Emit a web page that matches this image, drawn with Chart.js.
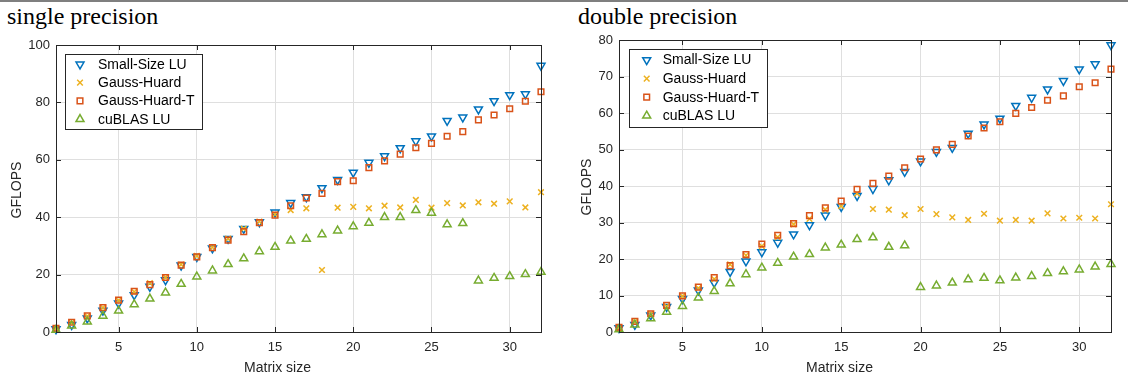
<!DOCTYPE html>
<html>
<head>
<meta charset="utf-8">
<script src="https://cdn.jsdelivr.net/npm/chart.js@4.4.1/dist/chart.umd.min.js"></script>
<style>
  html, body { margin: 0; padding: 0; background: #fff; }
  body { width: 1128px; height: 381px; position: relative; overflow: hidden; }
  .topline { position: absolute; left: 0; top: 0; width: 1128px; height: 2px; background: #7f7f7f; }
  .ttl { position: absolute; top: 4px; font-family: 'Liberation Serif', 'Times New Roman', serif; font-size: 24px; line-height: 24px; color: #000; white-space: nowrap; }
  canvas { position: absolute; top: 0; }
</style>
</head>
<body>
<div class="topline"></div>
<div class="ttl" style="left:7px">single precision</div>
<div class="ttl" style="left:578px">double precision</div>
<canvas id="cs" width="560" height="381" style="left:0"></canvas>
<canvas id="cd" width="568" height="381" style="left:560px"></canvas>
<script>
// ---------- data ----------
const sizes = [1,2,3,4,5,6,7,8,9,10,11,12,13,14,15,16,17,18,19,20,21,22,23,24,25,26,27,28,29,30,31,32];
const seriesNames = ['Small-Size LU', 'Gauss-Huard', 'Gauss-Huard-T', 'cuBLAS LU'];
const xTickLabels = [5, 10, 15, 20, 25, 30];
const spTickLabels = [0, 20, 40, 60, 80, 100];
const dpTickLabels = [0, 10, 20, 30, 40, 50, 60, 70, 80];
const xTitle = 'Matrix size';
const yTitle = 'GFLOPS';

const spSmall = [1.0,2.5,4.8,7.5,10.0,12.9,15.8,18.1,23.2,26.2,29.2,32.5,36.0,38.3,41.7,45.0,47.0,50.2,53.0,55.6,59.0,61.3,64.1,66.5,68.2,73.6,74.8,77.6,80.5,82.6,82.9,92.8];
const spGH    = [1.2,3.2,5.5,8.5,11.0,14.0,17.0,19.0,23.5,26.5,29.5,32.5,36.0,38.5,41.0,42.5,43.1,21.6,43.3,43.6,43.1,44.0,43.4,46.0,43.3,44.9,44.1,45.2,44.7,45.5,43.4,48.7];
const spGHT   = [1.3,3.4,5.6,8.5,11.1,14.2,16.5,19.0,23.3,26.2,29.4,32.0,35.0,38.1,40.7,44.0,46.7,48.3,52.4,52.7,57.3,59.6,62.0,64.2,65.7,68.2,69.8,73.9,75.6,77.8,80.4,83.7];
const spCub   = [0.7,2.2,3.6,5.6,7.4,9.6,11.6,13.7,16.7,19.3,21.4,23.6,25.6,28.1,29.6,31.8,32.4,34.0,35.3,36.8,38.0,40.0,40.0,42.4,41.5,37.5,37.9,17.9,18.8,19.4,20.1,20.9];

const dpSmall = [1.1,2.0,4.6,6.9,9.1,11.4,13.5,16.5,19.4,21.9,24.5,26.8,29.3,32.0,34.3,37.3,39.2,41.6,43.9,46.8,49.4,50.5,54.4,56.9,58.5,62.0,64.2,66.5,68.8,72.0,73.4,78.6];
const dpGH    = [1.0,2.8,5.0,7.0,9.8,12.0,14.5,18.5,21.0,23.5,26.0,29.5,31.0,33.5,34.5,37.9,33.7,33.5,32.0,33.7,32.3,31.4,30.7,32.4,30.5,30.7,30.5,32.5,31.1,31.3,31.1,35.0];
const dpGHT   = [1.3,2.9,5.0,7.3,9.9,12.3,14.9,18.2,21.2,24.1,26.5,29.7,31.9,34.0,35.9,39.1,40.7,42.7,45.0,47.4,49.9,51.4,53.7,55.9,57.6,59.9,61.5,63.5,64.7,67.2,68.3,72.0];
const dpCub   = [0.7,2.0,3.7,5.5,7.1,9.4,11.2,13.3,15.8,17.6,18.9,20.6,21.3,23.1,23.9,25.4,25.9,23.3,23.7,12.3,12.7,13.5,14.4,14.8,14.1,14.9,15.3,16.1,16.6,17.1,17.9,18.6];

// ---------- styles ----------
const FONT = "'Liberation Sans', Arial, Helvetica, sans-serif";
const TXT = '#262626';
const markerStyles = [
  { color: '#0072BD', pointStyle: 'triangle', rotation: 180, radius: 4.6 },
  { color: '#EDB120', pointStyle: 'crossRot', rotation: 0, radius: 4.0 },
  { color: '#D95319', pointStyle: 'rect', rotation: 0, radius: 4.0 },
  { color: '#77AC30', pointStyle: 'triangle', rotation: 0, radius: 4.6 }
];

function drawMarker(ctx, st, x, y) {
  if (Chart.helpers && Chart.helpers.drawPoint) {
    ctx.strokeStyle = st.color; ctx.fillStyle = 'rgba(0,0,0,0)'; ctx.lineWidth = 1.5;
    Chart.helpers.drawPoint(ctx, { pointStyle: st.pointStyle, rotation: st.rotation, radius: st.radius, borderWidth: 1.5 }, x, y);
  }
}

const matlabAxes = {
  id: 'matlabAxes',
  afterDraw(chart, args, o) {
    const { ctx, chartArea: a, scales: { x, y } } = chart;
    ctx.save();
    // box
    ctx.strokeStyle = TXT; ctx.lineWidth = 1;
    ctx.strokeRect(Math.round(a.left) + 0.5, Math.round(a.top) + 0.5, Math.round(a.right - a.left), Math.round(a.bottom - a.top));
    // inward ticks
    ctx.beginPath();
    const tl = 5;
    x.ticks.forEach(t => {
      const px = Math.round(x.getPixelForValue(t.value)) + 0.5;
      ctx.moveTo(px, a.bottom); ctx.lineTo(px, a.bottom - tl);
      ctx.moveTo(px, a.top); ctx.lineTo(px, a.top + tl);
    });
    y.ticks.forEach(t => {
      const py = Math.round(y.getPixelForValue(t.value)) + 0.5;
      ctx.moveTo(a.left, py); ctx.lineTo(a.left + tl, py);
      ctx.moveTo(a.right, py); ctx.lineTo(a.right - tl, py);
    });
    ctx.stroke();
    // axis titles
    ctx.fillStyle = TXT;
    ctx.font = '14px ' + FONT;
    ctx.textAlign = 'center'; ctx.textBaseline = 'alphabetic';
    ctx.fillText(xTitle, (a.left + a.right) / 2 + o.xTitleDx, o.xTitleY);
    ctx.save();
    ctx.translate(o.yTitleX, (a.top + a.bottom) / 2 + o.yTitleDy);
    ctx.rotate(-Math.PI / 2);
    ctx.textBaseline = 'middle';
    ctx.fillText(yTitle, 0, 0);
    ctx.restore();
    // legend
    const L = o.legend;
    const bx = Math.round(a.left + L.x) + 0.5, by = Math.round(a.top + L.y) + 0.5;
    ctx.fillStyle = '#fff';
    ctx.fillRect(bx, by, L.w, L.h);
    ctx.strokeStyle = TXT; ctx.lineWidth = 1;
    ctx.strokeRect(bx, by, L.w, L.h);
    ctx.font = '14px ' + FONT;
    ctx.textAlign = 'left'; ctx.textBaseline = 'middle';
    chart.data.datasets.forEach((ds, i) => {
      const ry = a.top + L.row0 + i * L.rowH;
      drawMarker(ctx, markerStyles[i], a.left + L.mx, ry);
      ctx.fillStyle = '#000';
      ctx.fillText(ds.label, a.left + L.tx, ry + 0.5);
    });
    ctx.restore();
  }
};

function makeChart(id, seriesArr, yMax, yTicks, lay) {
  const datasets = seriesArr.map((vals, i) => {
    const st = markerStyles[i];
    return {
      label: seriesNames[i],
      data: sizes.map((s, k) => ({ x: s, y: vals[k] })),
      showLine: false,
      pointStyle: st.pointStyle,
      rotation: st.rotation,
      pointRadius: st.radius,
      pointHoverRadius: st.radius,
      pointBorderWidth: 1.5,
      borderColor: st.color,
      backgroundColor: 'rgba(0,0,0,0)',
      clip: false,
      order: 4 - i
    };
  });
  return new Chart(document.getElementById(id), {
    type: 'scatter',
    data: { datasets },
    options: {
      responsive: false,
      animation: false,
      devicePixelRatio: 1,
      layout: { padding: { left: 0, right: lay.padRight, top: lay.padTop, bottom: 0 } },
      plugins: { legend: { display: false }, tooltip: { enabled: false }, matlabAxes: lay.axes },
      scales: {
        x: {
          type: 'linear', min: 1, max: 32,
          afterBuildTicks: s => { s.ticks = xTickLabels.map(v => ({ value: v })); },
          afterFit: s => { s.height = lay.xAxisH; },
          ticks: { color: TXT, font: { family: FONT, size: 13 }, padding: 8, maxRotation: 0, autoSkip: false },
          grid: { color: '#dfdfdf', drawTicks: false, lineWidth: 1 },
          border: { display: false }
        },
        y: {
          type: 'linear', min: 0, max: yMax,
          afterBuildTicks: s => { s.ticks = yTicks.map(v => ({ value: v })); },
          afterFit: s => { s.width = lay.yAxisW; },
          ticks: { color: TXT, font: { family: FONT, size: 13 }, padding: 6, autoSkip: false },
          grid: { color: '#dfdfdf', drawTicks: false, lineWidth: 1 },
          border: { display: false }
        }
      }
    },
    plugins: [matlabAxes]
  });
}

makeChart('cs', [spSmall, spGH, spGHT, spCub], 100, spTickLabels, {
  padRight: 19, padTop: 45, xAxisH: 49, yAxisW: 56,
  axes: { xTitleDx: -21, xTitleY: 372, yTitleX: 17, yTitleDy: 1.5,
          legend: { x: 9, y: 9, w: 137, h: 75, mx: 24, tx: 42, row0: 19.3, rowH: 18.3 } }
});
makeChart('cd', [dpSmall, dpGH, dpGHT, dpCub], 80, dpTickLabels, {
  padRight: 17, padTop: 40, xAxisH: 49, yAxisW: 59,
  axes: { xTitleDx: -25.5, xTitleY: 372, yTitleX: 27.5, yTitleDy: 1,
          legend: { x: 10, y: 9, w: 138, h: 78, mx: 27.7, tx: 43.7, row0: 20, rowH: 18.6 } }
});
</script>
</body>
</html>
